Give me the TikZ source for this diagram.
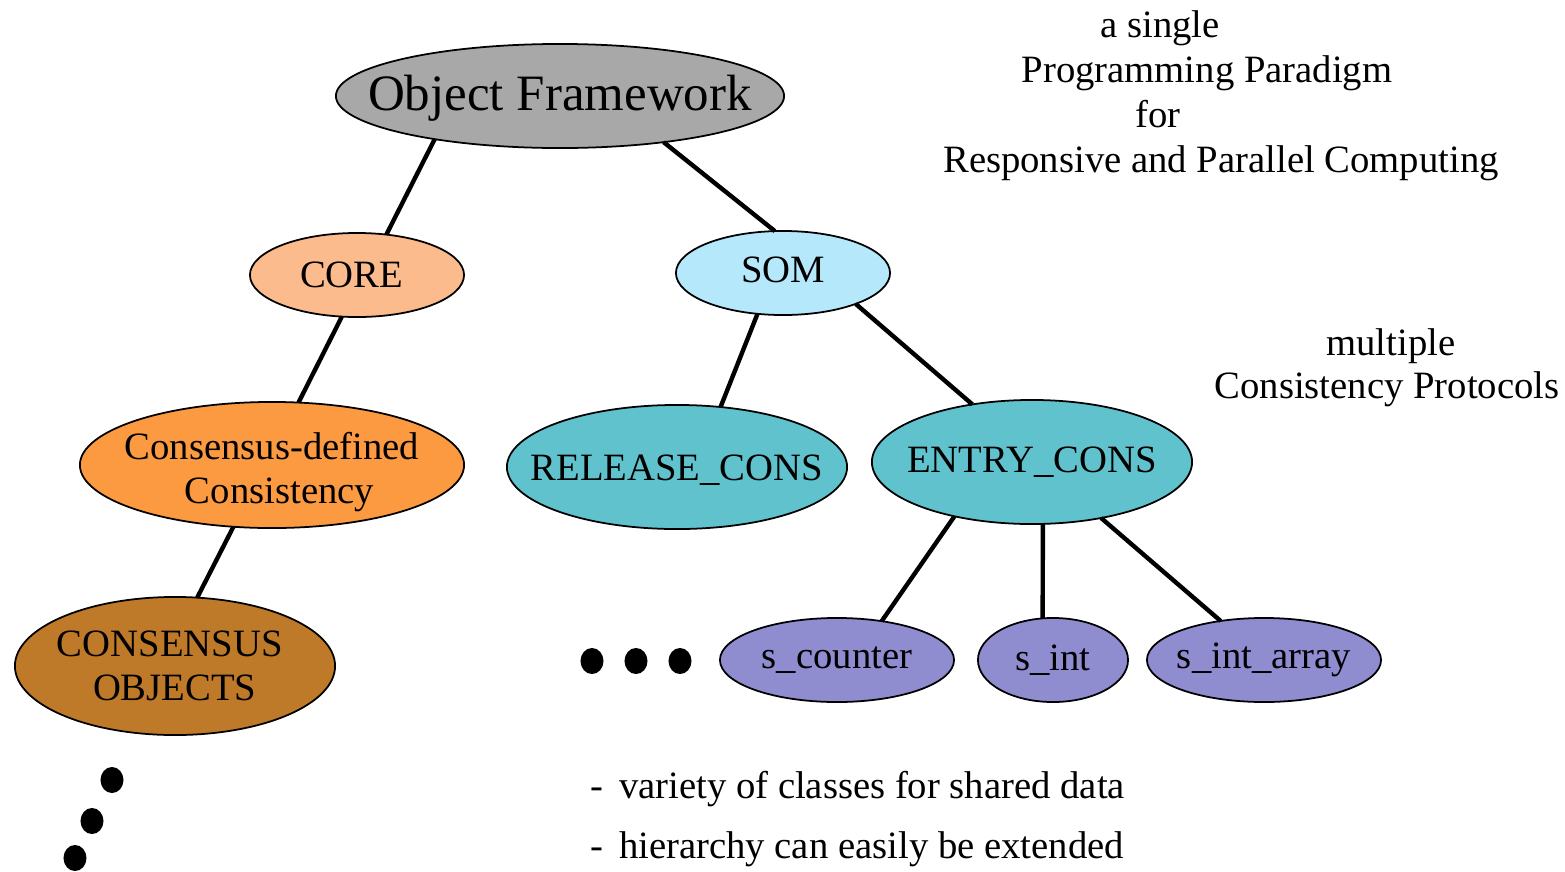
\documentclass[tikz,border=0pt]{standalone}
\usepackage{fontspec}
\setmainfont{Liberation Serif}
\usetikzlibrary{shapes.geometric}
\definecolor{cgray}{HTML}{A8A8A8}
\definecolor{cpeach}{HTML}{FBBB8C}
\definecolor{cskyb}{HTML}{B5E8FA}
\definecolor{corng}{HTML}{FC9A42}
\definecolor{cteal}{HTML}{60C2CC}
\definecolor{cbrown}{HTML}{BE7A28}
\definecolor{cviol}{HTML}{908CD0}
\begin{document}
\begin{tikzpicture}[x=0.01cm,y=-0.01cm,
  ell/.style={ellipse,draw=black,line width=0.5pt,inner sep=0pt,outer sep=0pt},
  lbl/.style={align=center,inner sep=0pt,font=\fontsize{11}{12.6}\selectfont},
  txt/.style={inner sep=0pt,font=\fontsize{11}{12.6}\selectfont},
  edge/.style={line width=1.25pt},
  dotn/.style={ellipse,fill=black,inner sep=0pt,minimum width=0.23cm,minimum height=0.26cm}]
\useasboundingbox (0,0) rectangle (1565,872);
% nodes
\node[ell,fill=cgray,minimum width=4.48cm,minimum height=1.04cm,
  label={[lbl,font=\fontsize{14.5}{16}\selectfont,yshift=-0.5pt]center:Object Framework}] (of) at (560,96) {};
\node[ell,fill=cpeach,minimum width=2.14cm,minimum height=0.84cm,
  label={[lbl,xshift=-1.5pt]center:CORE}] (core) at (357,275) {};
\node[ell,fill=cskyb,minimum width=2.14cm,minimum height=0.84cm,
  label={[lbl,yshift=1pt]center:SOM}] (som) at (783,273) {};
\node[ell,fill=corng,minimum width=3.84cm,minimum height=1.26cm,
  label={[lbl,yshift=-2pt]center:Consensus-defined\\\hspace*{0.15cm}Consistency}] (ccons) at (272,465) {};
\node[ell,fill=cteal,minimum width=3.40cm,minimum height=1.24cm,
  label={[lbl,yshift=-1pt]center:RELEASE\_CONS}] (rel) at (677,467) {};
\node[ell,fill=cteal,minimum width=3.20cm,minimum height=1.24cm,
  label={[lbl]center:ENTRY\_CONS}] (entry) at (1032,462) {};
\node[ell,fill=cbrown,minimum width=3.20cm,minimum height=1.38cm,
  label={[lbl,xshift=-1.5pt]center:CONSENSUS\\\hspace*{0.1cm}OBJECTS}] (cobj) at (175,666) {};
\node[ell,fill=cviol,minimum width=2.34cm,minimum height=0.84cm,
  label={[lbl]center:s\_counter}] (scnt) at (837,660) {};
\node[ell,fill=cviol,minimum width=1.50cm,minimum height=0.84cm,
  label={[lbl]center:s\_int}] (sint) at (1053,660) {};
\node[ell,fill=cviol,minimum width=2.34cm,minimum height=0.84cm,
  label={[lbl]center:s\_int\_array}] (sarr) at (1264,660) {};
% edges
\draw[edge] (of.199.5) -- (core.54);
\draw[edge] (of.336.5) -- (som.101);
\draw[edge] (core.250) -- (ccons.67);
\draw[edge] (som.238) -- (rel.54);
\draw[edge] (som.337) -- (entry.136.5);
\draw[edge] (ccons.238) -- (cobj.72);
\draw[edge] (entry.215) -- (scnt.41);
\draw[edge] (entry.280) -- (sint.104);
\draw[edge] (entry.321) -- (sarr.138);
% dots
\node[dotn] (h1) at (592,661) {};
\node[dotn] (h2) at (636,661) {};
\node[dotn] (h3) at (680,661) {};
\node[dotn] (v1) at (112,780) {};
\node[dotn] (v2) at (92,821) {};
\node[dotn] (v3) at (75,858) {};
% texts
\node[txt,anchor=base] (t1) at (1160,37) {a single};
\node[txt,anchor=base] (t2) at (1207,82) {Programming Paradigm};
\node[txt,anchor=base] (t3) at (1158,127) {for};
\node[txt,anchor=base] (t4) at (1221,172) {Responsive and Parallel Computing};
\node[txt,anchor=base] (t5) at (1391,355) {multiple};
\node[txt,anchor=base] (t6) at (1387,398) {Consistency Protocols};
\node[txt,anchor=base west] (t7) at (590,798) {-\hspace{0.4em}variety of classes for shared data};
\node[txt,anchor=base west] (t8) at (590,858) {-\hspace{0.4em}hierarchy can easily be extended};
\end{tikzpicture}
\end{document}
